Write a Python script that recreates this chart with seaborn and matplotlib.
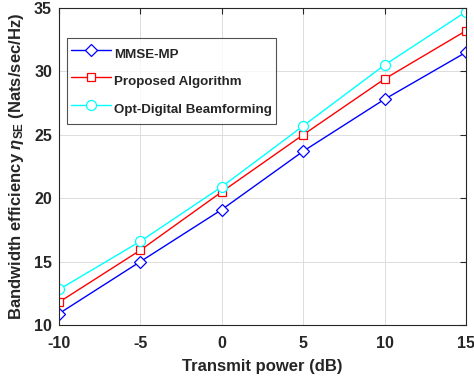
import seaborn as sns
import pandas as pd
import matplotlib.pyplot as plt

# Data
power_db = [-10, -5, 0, 5, 10, 15]
mmse_mp = [10.9, 15.0, 19.1, 23.7, 27.8, 31.5]
proposed = [11.8, 15.9, 20.5, 25.0, 29.4, 33.2]
opt_digital = [12.8, 16.6, 20.9, 25.7, 30.5, 34.7]

series_names = ["MMSE-MP", "Proposed Algorithm", "Opt-Digital Beamforming"]
series_values = [mmse_mp, proposed, opt_digital]
colors = ["#0000ff", "#ff0000", "#00ffff"]
markers = ["D", "s", "o"]
marker_sizes = [6.5, 6, 7.2]

rows = []
for name, vals in zip(series_names, series_values):
    for p, v in zip(power_db, vals):
        rows.append({"Power": p, "SE": v, "Algorithm": name})
df = pd.DataFrame(rows)

sns.set_style("white")
plt.rcParams['font.family'] = ['Liberation Sans', 'DejaVu Sans']
plt.rcParams['font.weight'] = 'bold'
plt.rcParams['axes.unicode_minus'] = False
plt.rcParams['mathtext.fontset'] = 'custom'
plt.rcParams['mathtext.rm'] = 'Liberation Sans'
plt.rcParams['mathtext.it'] = 'Liberation Sans:italic'
plt.rcParams['mathtext.bf'] = 'Liberation Sans:bold'

fig = plt.figure(figsize=(4.74, 3.79), dpi=100)
ax = fig.add_axes([0.1245, 0.1425, 0.8585, 0.8365])

for name, c, m, ms in zip(series_names, colors, markers, marker_sizes):
    sub = df[df["Algorithm"] == name]
    sns.lineplot(data=sub, x="Power", y="SE", ax=ax, color=c, marker=m,
                 markersize=ms, markerfacecolor="white", markeredgecolor=c,
                 markeredgewidth=0.9, linewidth=1.0, label=name)

ax.set_xlim(-10, 15)
ax.set_ylim(10, 35)
ax.set_xticks(power_db)
ax.set_yticks([10, 15, 20, 25, 30, 35])
ax.tick_params(direction="in", top=True, right=True, length=4, width=0.8,
               labelsize=11.5, colors="#262626")
ax.tick_params(axis="x", pad=8)
ax.tick_params(axis="y", pad=5)
for lbl in ax.get_xticklabels() + ax.get_yticklabels():
    lbl.set_fontweight("bold")
for s in ax.spines.values():
    s.set_color("#262626")
    s.set_linewidth(0.8)
ax.grid(True, color="#dcdcdc", linewidth=0.7)
ax.set_axisbelow(True)

ax.set_xlabel("Transmit power (dB)", fontsize=12, fontweight="bold",
              color="#262626", labelpad=6)
ax.set_ylabel(r"Bandwidth efficiency $\eta_{\mathbf{SE}}$ (Nats/sec/Hz)",
              fontsize=12, fontweight="bold", color="#262626", labelpad=6)

leg = ax.legend(loc="upper left", bbox_to_anchor=(0.0197, 0.905), fontsize=9.6,
                frameon=True, fancybox=False, edgecolor="#262626",
                handlelength=3.0, handleheight=2.3, handletextpad=0.25,
                borderpad=0.28, labelspacing=0.33, borderaxespad=0)
leg.get_frame().set_linewidth(0.8)
for t in leg.get_texts():
    t.set_fontweight("bold")

fig.savefig("out.png", dpi=100)
